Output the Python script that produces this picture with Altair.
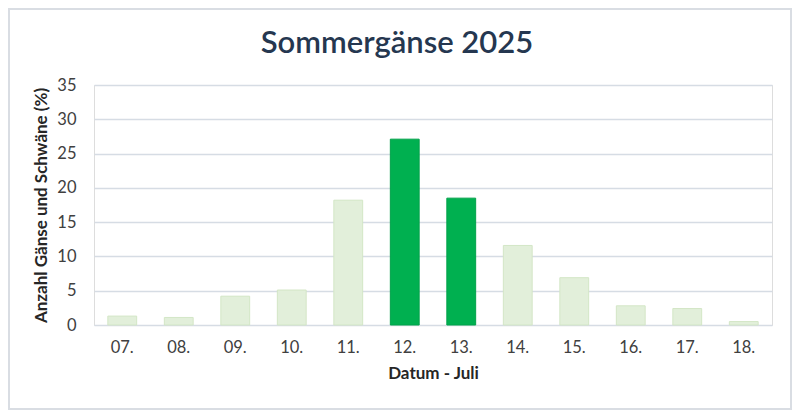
import altair as alt
import pandas as pd

days = ["07.", "08.", "09.", "10.", "11.", "12.", "13.", "14.", "15.", "16.", "17.", "18."]
values = [1.3, 1.1, 4.2, 5.1, 18.2, 27.1, 18.5, 11.6, 6.9, 2.8, 2.4, 0.5]
highlight = ["n", "n", "n", "n", "n", "y", "y", "n", "n", "n", "n", "n"]

df = pd.DataFrame({"Tag": days, "Wert": values, "hl": highlight})

W, H = 678, 240
PL, PT, PR, PB = 86, 77, 20, 85

bars = alt.Chart(df).mark_bar(strokeWidth=1).encode(
    x=alt.X("Tag:N", sort=days,
            scale=alt.Scale(paddingInner=0.49, paddingOuter=0.245),
            axis=alt.Axis(title="Datum - Juli", labelAngle=0, labelFontSize=16.5,
                          labelFont="Lato", labelColor="#404040", labelPadding=14,
                          ticks=False, domain=False, grid=False,
                          titleFont="Lato", titleFontSize=17, titleFontWeight="bold",
                          titleColor="#262626", titlePadding=10)),
    y=alt.Y("Wert:Q", scale=alt.Scale(domain=[0, 35]),
            axis=alt.Axis(title="Anzahl Gänse und Schwäne (%)", values=[0, 5, 10, 15, 20, 25, 30, 35],
                          labelFontSize=16.5, labelFont="Lato", labelColor="#404040",
                          labelPadding=18, ticks=False, domain=False,
                          gridColor="#d6dce4", gridWidth=1.5,
                          titleFont="Lato", titleFontSize=17, titleFontWeight="bold",
                          titleColor="#262626", titlePadding=6)),
    fill=alt.Fill("hl:N", scale=alt.Scale(domain=["n", "y"], range=["#e2efda", "#00b050"]), legend=None),
    stroke=alt.Stroke("hl:N", scale=alt.Scale(domain=["n", "y"], range=["#d3e6c6", "#01a24a"]), legend=None),
)

border = alt.Chart(df).mark_rect(fill=None, stroke="#d9dde3", strokeWidth=2, clip=False).encode(
    x=alt.value(-PL + 1), x2=alt.value(W + PR - 1),
    y=alt.value(-PT + 1), y2=alt.value(H + PB - 1),
)

chart = alt.layer(border, bars).properties(
    width=W, height=H,
    title=alt.TitleParams("Sommergänse 2025", font="Lato", fontSize=31, fontWeight=600,
                          color="#253750", anchor="middle", dx=-36, offset=0, dy=52),
    autosize=alt.AutoSizeParams(type="none"),
    padding={"left": PL, "top": PT, "right": PR, "bottom": PB},
).configure_view(stroke=None).configure(background="white")

chart.save("out.html", embed_options={"renderer": "svg", "actions": False})
